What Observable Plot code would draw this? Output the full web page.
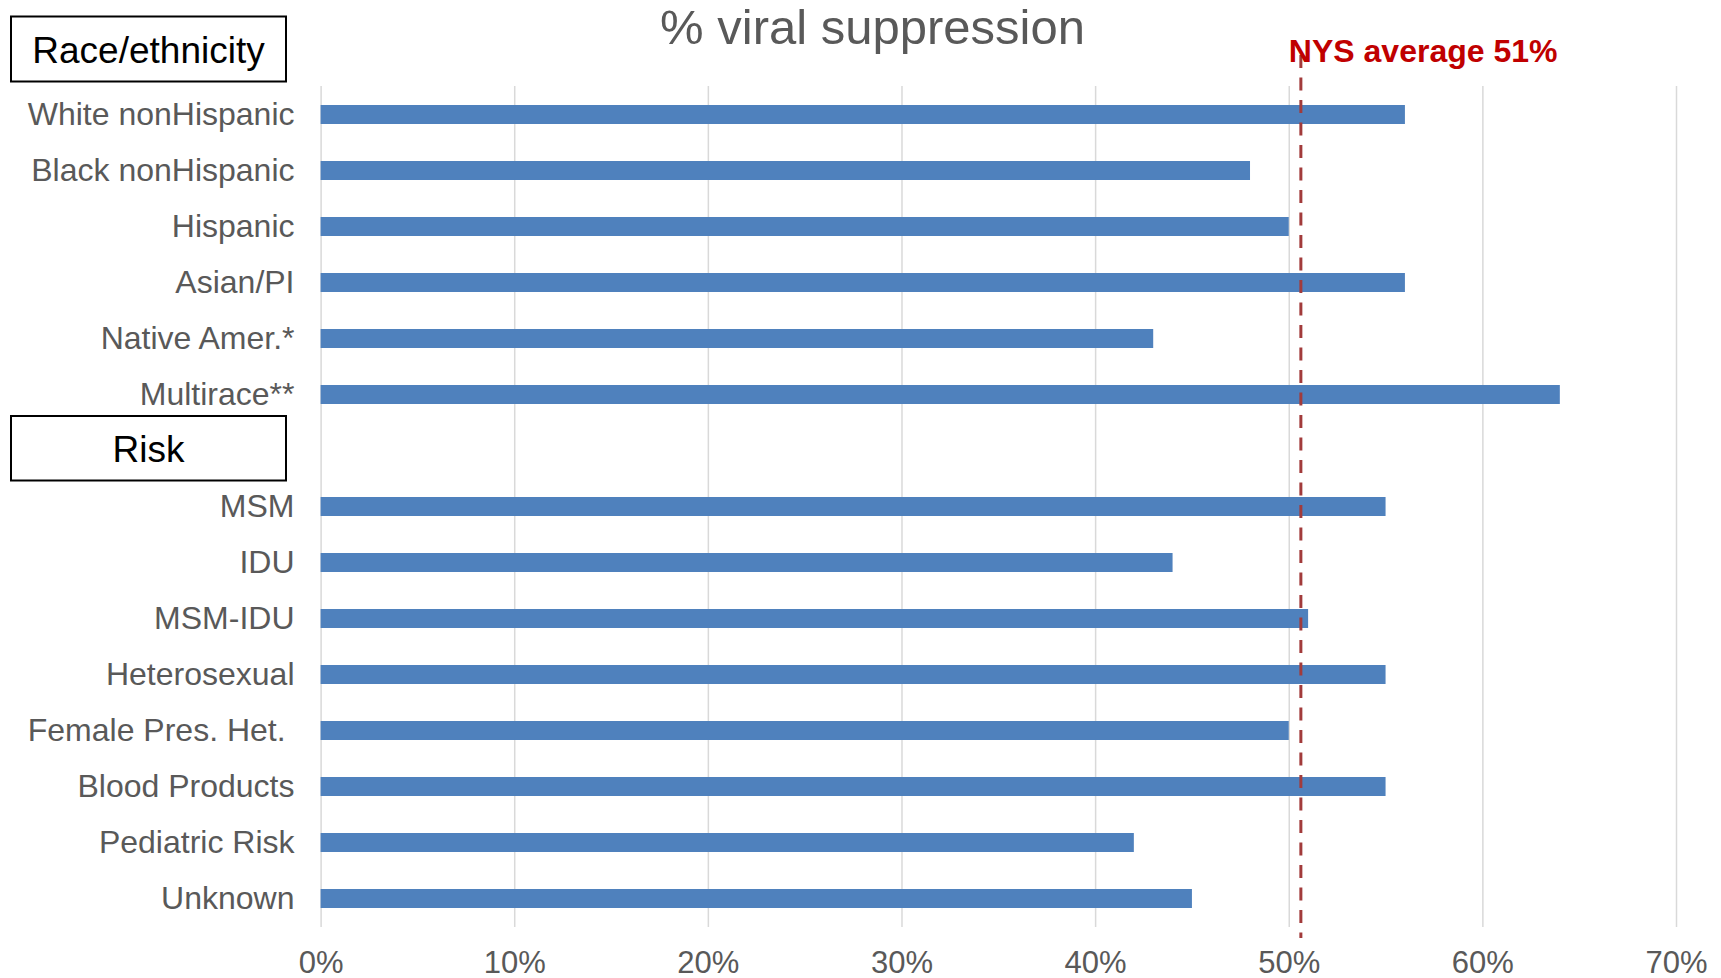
<!DOCTYPE html>
<html>
<head>
<meta charset="utf-8">
<script src="https://cdn.jsdelivr.net/npm/d3@7"></script>
<script src="https://cdn.jsdelivr.net/npm/@observablehq/plot@0.6"></script>
<style>
  html, body { margin: 0; padding: 0; background: #fff; }
  #wrap { position: relative; width: 1721px; height: 978px; }
  #wrap > svg { position: absolute; left: 0; top: 0; }
  #overlay { pointer-events: none; }
</style>
</head>
<body>
<div id="wrap"></div>
<script>
const raceCategories = ["White nonHispanic", "Black nonHispanic", "Hispanic", "Asian/PI", "Native Amer.*", "Multirace**"];
const raceValues = [56, 48, 50, 56, 43, 64];
const riskCategories = ["MSM", "IDU", "MSM-IDU", "Heterosexual", "Female Pres. Het.\u00a0", "Blood Products", "Pediatric Risk", "Unknown"];
const riskValues = [55, 44, 51, 55, 50, 55, 42, 45];
const groupLabels = ["Race/ethnicity", "Risk"];
const xTicks = [0, 10, 20, 30, 40, 50, 60, 70];
const nysAverage = 50.6;
const nysLabel = "NYS average 51%";
const title = "% viral suppression";

const rows = [
  ...raceCategories.map((c, i) => ({category: c, value: raceValues[i]})),
  ...riskCategories.map((c, i) => ({category: c, value: riskValues[i]}))
];
const yDomain = [...raceCategories, "", ...riskCategories];

const W = 1721, H = 978;
const font = "'Liberation Sans', Arial, sans-serif";

const chart = Plot.plot({
  width: W,
  height: H,
  marginLeft: 320.6,
  marginRight: 45,
  marginTop: 86,
  marginBottom: 51,
  style: {fontFamily: font, fontSize: "31px", color: "#595959", background: "transparent", overflow: "visible"},
  x: {domain: [0, 70], label: null},
  y: {domain: yDomain, paddingInner: 0.656, paddingOuter: 0.328, label: null},
  marks: [
    Plot.ruleX(xTicks, {stroke: "#d9d9d9", strokeWidth: 1.5}),
    Plot.barX(rows, {x: "value", y: "category", fill: "#4f81bd"}),
    Plot.ruleX([nysAverage], {stroke: "#a23b3b", strokeWidth: 3, strokeDasharray: "13,9.5", insetTop: -31, insetBottom: -11}),
    Plot.text([nysAverage], {x: d => d, frameAnchor: "top", dy: -25, dx: -12, text: () => nysLabel, textAnchor: "start", lineAnchor: "bottom", fill: "#c00000", fontWeight: "bold", fontSize: 32}),
    Plot.axisX(xTicks, {tickSize: 0, tickPadding: 23, tickFormat: d => d + "%", fontSize: 31, fill: "#595959", label: null}),
    Plot.axisY({tickSize: 0, tickPadding: 26.6, fontSize: 32, fill: "#595959", label: null})
  ]
});

const wrap = document.getElementById("wrap");
wrap.appendChild(chart);

// overlay: title and group boxes
const ns = "http://www.w3.org/2000/svg";
const ov = document.createElementNS(ns, "svg");
ov.setAttribute("id", "overlay");
ov.setAttribute("width", W);
ov.setAttribute("height", H);
ov.style.fontFamily = font;
function txt(s, x, y, size, fill, anchor) {
  const t = document.createElementNS(ns, "text");
  t.setAttribute("x", x); t.setAttribute("y", y);
  t.setAttribute("font-size", size); t.setAttribute("fill", fill);
  t.setAttribute("text-anchor", anchor);
  t.textContent = s;
  ov.appendChild(t);
}
function box(x, y, w, h) {
  const r = document.createElementNS(ns, "rect");
  r.setAttribute("x", x); r.setAttribute("y", y);
  r.setAttribute("width", w); r.setAttribute("height", h);
  r.setAttribute("fill", "white"); r.setAttribute("stroke", "black"); r.setAttribute("stroke-width", 2);
  ov.appendChild(r);
}
txt(title, 872.5, 44, 49, "#595959", "middle");
box(11, 16.5, 275, 65);
txt(groupLabels[0], 148.5, 63, 37, "black", "middle");
box(11, 416, 275, 64.5);
txt(groupLabels[1], 148.5, 461.5, 37, "black", "middle");
wrap.appendChild(ov);
</script>
</body>
</html>
